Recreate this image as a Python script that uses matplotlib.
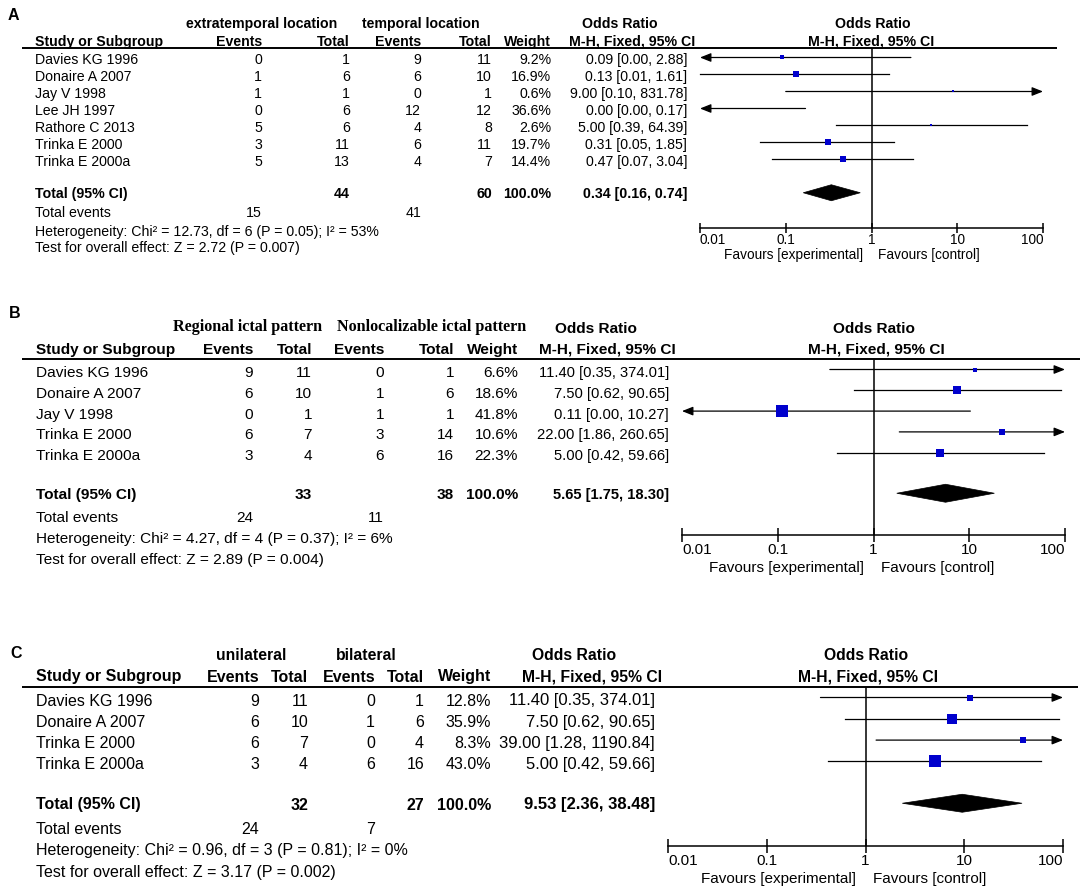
import matplotlib
matplotlib.use("Agg")
import matplotlib.pyplot as plt
from matplotlib.patches import Polygon
import numpy as np

# ---------------- DATA ----------------
tick_values = [0.01, 0.1, 1, 10, 100]
tick_labels = ["0.01", "0.1", "1", "10", "100"]
favours_left = "Favours [experimental]"
favours_right = "Favours [control]"

# Panel A
a_groups = ["extratemporal location", "temporal location"]
a_studies = ["Davies KG 1996", "Donaire A 2007", "Jay V 1998", "Lee JH 1997",
             "Rathore C 2013", "Trinka E 2000", "Trinka E 2000a"]
a_ev1 = [0, 1, 1, 0, 5, 3, 5]
a_tot1 = [1, 6, 1, 6, 6, 11, 13]
a_ev2 = [9, 6, 0, 12, 4, 6, 4]
a_tot2 = [11, 10, 1, 12, 8, 11, 7]
a_weight = [9.2, 16.9, 0.6, 36.6, 2.6, 19.7, 14.4]
a_or = [0.09, 0.13, 9.00, 0.00, 5.00, 0.31, 0.47]
a_lo = [0.00, 0.01, 0.10, 0.00, 0.39, 0.05, 0.07]
a_hi = [2.88, 1.61, 831.78, 0.17, 64.39, 1.85, 3.04]
a_total_n = [44, 60]
a_total_or = [0.34, 0.16, 0.74]
a_total_events = [15, 41]
a_het = "Heterogeneity: Chi² = 12.73, df = 6 (P = 0.05); I² = 53%"
a_test = "Test for overall effect: Z = 2.72 (P = 0.007)"

# Panel B
b_groups = ["Regional ictal pattern", "Nonlocalizable ictal pattern"]
b_studies = ["Davies KG 1996", "Donaire A 2007", "Jay V 1998", "Trinka E 2000", "Trinka E 2000a"]
b_ev1 = [9, 6, 0, 6, 3]
b_tot1 = [11, 10, 1, 7, 4]
b_ev2 = [0, 1, 1, 3, 6]
b_tot2 = [1, 6, 1, 14, 16]
b_weight = [6.6, 18.6, 41.8, 10.6, 22.3]
b_or = [11.40, 7.50, 0.11, 22.00, 5.00]
b_lo = [0.35, 0.62, 0.00, 1.86, 0.42]
b_hi = [374.01, 90.65, 10.27, 260.65, 59.66]
b_total_n = [33, 38]
b_total_or = [5.65, 1.75, 18.30]
b_total_events = [24, 11]
b_het = "Heterogeneity: Chi² = 4.27, df = 4 (P = 0.37); I² = 6%"
b_test = "Test for overall effect: Z = 2.89 (P = 0.004)"

# Panel C
c_groups = ["unilateral", "bilateral"]
c_studies = ["Davies KG 1996", "Donaire A 2007", "Trinka E 2000", "Trinka E 2000a"]
c_ev1 = [9, 6, 6, 3]
c_tot1 = [11, 10, 7, 4]
c_ev2 = [0, 1, 0, 6]
c_tot2 = [1, 6, 4, 16]
c_weight = [12.8, 35.9, 8.3, 43.0]
c_or = [11.40, 7.50, 39.00, 5.00]
c_lo = [0.35, 0.62, 1.28, 0.42]
c_hi = [374.01, 90.65, 1190.84, 59.66]
c_total_n = [32, 27]
c_total_or = [9.53, 2.36, 38.48]
c_total_events = [24, 7]
c_het = "Heterogeneity: Chi² = 0.96, df = 3 (P = 0.81); I² = 0%"
c_test = "Test for overall effect: Z = 3.17 (P = 0.002)"

# ---------------- STYLE / LAYOUT ----------------
W, H, DPI = 1084, 893, 100
BLUE = "#0000CD"
SANS = ["Liberation Sans", "DejaVu Sans"]
SERIF = ["Liberation Serif", "DejaVu Serif"]

fig = plt.figure(figsize=(W / DPI, H / DPI), dpi=DPI)
axm = fig.add_axes([0, 0, 1, 1])
axm.set_xlim(0, W)
axm.set_ylim(H, 0)
axm.axis("off")


def fmt_or(e, l, h):
    return f"{e:.2f} [{l:.2f}, {h:.2f}]"


def draw_panel(letter, groups, studies, ev1, tot1, ev2, tot2, weight, orv, lo, hi,
               total_n, total_or, total_events, het, test, L):
    fs = L["fs"]
    hfs0 = L["colfs"]
    t = lambda x, y, s, **kw: axm.text(x, y, s, va="center", **kw)

    t(L["label"][0], L["label"][1], letter, fontsize=11.5, fontweight="bold", family=SANS)
    # group headers
    t(L["g1"], L["gy"], groups[0], ha="center", fontsize=L["gfs"], fontweight="bold",
      family=L["group_font"])
    t(L["g2"], L["gy"], groups[1], ha="center", fontsize=L["gfs"], fontweight="bold",
      family=L["group_font"])
    t(L["orc"], L["ory"], "Odds Ratio", ha="center", fontsize=L["hfs"], fontweight="bold", family=SANS)
    t(L["plotc"], L["ory"], "Odds Ratio", ha="center", fontsize=L["hfs"], fontweight="bold", family=SANS)
    # column headers
    hy = L["hy"]
    t(L["left"], hy, "Study or Subgroup", ha="left", fontsize=hfs0, fontweight="bold", family=SANS)
    for key, lab in [("ev1", "Events"), ("tot1", "Total"), ("ev2", "Events"),
                     ("tot2", "Total"), ("w", "Weight")]:
        t(L[key], hy, lab, ha="right", fontsize=hfs0, fontweight="bold", family=SANS)
    t(L["mhc"], hy, "M-H, Fixed, 95% CI", ha="center", fontsize=L["hfs"], fontweight="bold", family=SANS)
    t(L["plotmhc"], hy, "M-H, Fixed, 95% CI", ha="center", fontsize=L["hfs"], fontweight="bold", family=SANS)
    axm.plot([L["line"][0], L["line"][1]], [L["top"], L["top"]], color="black", lw=1.4,
             solid_capstyle="butt")

    ys = [L["y0"] + i * L["dy"] for i in range(len(studies))]
    for i, y in enumerate(ys):
        t(L["left"], y, studies[i], ha="left", fontsize=fs, family=SANS)
        t(L["ev1"], y, str(ev1[i]), ha="right", fontsize=fs, family=SANS)
        t(L["tot1"], y, str(tot1[i]), ha="right", fontsize=fs, family=SANS)
        t(L["ev2"], y, str(ev2[i]), ha="right", fontsize=fs, family=SANS)
        t(L["tot2"], y, str(tot2[i]), ha="right", fontsize=fs, family=SANS)
        t(L["w"], y, f"{weight[i]:.1f}%", ha="right", fontsize=fs, family=SANS)
        t(L["orr"], y, fmt_or(orv[i], lo[i], hi[i]), ha="right", fontsize=L["orfs"], family=SANS)

    ty = L["ty"]
    t(L["left"], ty, "Total (95% CI)", ha="left", fontsize=hfs0, fontweight="bold", family=SANS)
    t(L["tot1"], ty, str(total_n[0]), ha="right", fontsize=hfs0, fontweight="bold", family=SANS)
    t(L["tot2"], ty, str(total_n[1]), ha="right", fontsize=hfs0, fontweight="bold", family=SANS)
    t(L["w"], ty, "100.0%", ha="right", fontsize=hfs0, fontweight="bold", family=SANS)
    t(L["orr"], ty, fmt_or(*total_or), ha="right", fontsize=L["orfs"], fontweight="bold", family=SANS)
    t(L["left"], L["tey"], "Total events", ha="left", fontsize=fs, family=SANS)
    t(L["ev1"], L["tey"], str(total_events[0]), ha="right", fontsize=fs, family=SANS)
    t(L["ev2"], L["tey"], str(total_events[1]), ha="right", fontsize=fs, family=SANS)
    t(L["left"], L["hety"], het, ha="left", fontsize=fs, family=SANS)
    t(L["left"], L["testy"], test, ha="left", fontsize=fs, family=SANS)

    # forest plot axes (x log scale, y in figure pixels)
    x0, x1, top, ay = L["px0"], L["px1"], L["top"], L["axisy"]
    ax = fig.add_axes([x0 / W, 1 - ay / H, (x1 - x0) / W, (ay - top) / H])
    ax.set_xscale("log")
    ax.set_xlim(tick_values[0], tick_values[-1])
    ax.set_ylim(ay, top)
    ax.patch.set_alpha(0)
    for s in ["top", "left", "right"]:
        ax.spines[s].set_visible(False)
    ax.spines["bottom"].set_linewidth(1.1)
    ax.set_xticks(tick_values)
    ax.set_xticklabels([""] * len(tick_values))
    ax.xaxis.set_minor_locator(matplotlib.ticker.NullLocator())
    ax.tick_params(axis="x", direction="inout", length=L["ticklen"], width=1.1)
    ax.set_yticks([])
    ax.axvline(1, color="black", lw=1.1)
    n = len(tick_values)
    for k, (v, lab) in enumerate(zip(tick_values, tick_labels)):
        ha = "left" if k == 0 else ("right" if k == n - 1 else "center")
        ax.text(v, L["tly"], lab, ha=ha, va="center", fontsize=L["tfs"], family=SANS,
                clip_on=False)
    axm.text(L["favl"], L["favy"], favours_left, ha="right", va="center", fontsize=L["tfs"], family=SANS)
    axm.text(L["favr"], L["favy"], favours_right, ha="left", va="center", fontsize=L["tfs"], family=SANS)

    lim_lo, lim_hi = tick_values[0], tick_values[-1]
    for i, y in enumerate(ys):
        y = y + L["lineoff"]
        l, h = lo[i], hi[i]
        arrow_l, arrow_h = l < lim_lo, h > lim_hi
        lc, hc = max(l, lim_lo), min(h, lim_hi)
        if arrow_l or arrow_h:
            start, tip = (hc, lc) if arrow_l else (lc, hc)
            ax.annotate("", xy=(tip, y), xytext=(start, y), annotation_clip=False,
                        arrowprops=dict(arrowstyle="-|>,head_length=0.55,head_width=0.22",
                                        mutation_scale=12, lw=0.9, color="black",
                                        shrinkA=0, shrinkB=0))
        else:
            ax.plot([lc, hc], [y, y], color="black", lw=0.9, clip_on=False)
        if lim_lo < orv[i] < lim_hi:
            side = L["sq"] * np.sqrt(weight[i]) * 0.72
            ax.scatter([orv[i]], [y], marker="s", s=side ** 2, color=BLUE, zorder=3,
                       linewidths=0)
    e, l, h = total_or
    dh = L["dh"]
    yd = ty + L["lineoff"] / 2
    ax.add_patch(Polygon([(l, yd), (e, yd - dh), (h, yd), (e, yd + dh)], closed=True,
                         facecolor="black", edgecolor="black", lw=0.5))


LA = dict(fs=10.2, colfs=10.2, gfs=10.2, hfs=10.2, orfs=10.2, group_font=SANS,
          label=(8, 15), gy=24, g1=262, g2=421, ory=24, orc=620, plotc=873,
          hy=42, left=35, ev1=262, tot1=350, ev2=421, tot2=492, w=551, orr=687,
          mhc=632, plotmhc=871, line=(22, 1057), top=48,
          y0=60, dy=17.0, ty=194, tey=213, hety=232, testy=248,
          px0=700, px1=1043, axisy=228, ticklen=7.5, tly=240, tfs=9.8,
          favl=863, favr=878, favy=255, dh=8, sq=1.45, lineoff=-2.5)

LB = dict(fs=11.1, colfs=11.1, gfs=11.6, hfs=11.1, orfs=10.6, group_font=SERIF,
          label=(9, 313), gy=327, g1=248, g2=432, ory=329, orc=596, plotc=874,
          hy=350, left=36, ev1=253, tot1=312, ev2=384, tot2=454, w=518, orr=669,
          mhc=607, plotmhc=876, line=(22, 1080), top=359,
          y0=373, dy=20.8, ty=495, tey=518, hety=539, testy=560,
          px0=682, px1=1065, axisy=535, ticklen=10, tly=550, tfs=11,
          favl=864, favr=881, favy=568, dh=9, sq=1.75, lineoff=-3.5)

LC = dict(fs=11.5, colfs=11.5, gfs=11.3, hfs=11.3, orfs=12.0, group_font=SANS,
          label=(10, 653), gy=656, g1=251, g2=366, ory=656, orc=574, plotc=866,
          hy=677, left=36, ev1=259, tot1=308, ev2=375, tot2=424, w=491, orr=655,
          mhc=592, plotmhc=868, line=(22, 1078), top=687,
          y0=701, dy=21.3, ty=805, tey=829, hety=851, testy=872,
          px0=668, px1=1063, axisy=846, ticklen=10, tly=861, tfs=11,
          favl=856, favr=873, favy=879, dh=9, sq=1.78, lineoff=-3.5)

draw_panel("A", a_groups, a_studies, a_ev1, a_tot1, a_ev2, a_tot2, a_weight, a_or, a_lo, a_hi,
           a_total_n, a_total_or, a_total_events, a_het, a_test, LA)
draw_panel("B", b_groups, b_studies, b_ev1, b_tot1, b_ev2, b_tot2, b_weight, b_or, b_lo, b_hi,
           b_total_n, b_total_or, b_total_events, b_het, b_test, LB)
draw_panel("C", c_groups, c_studies, c_ev1, c_tot1, c_ev2, c_tot2, c_weight, c_or, c_lo, c_hi,
           c_total_n, c_total_or, c_total_events, c_het, c_test, LC)

fig.savefig("out.png", dpi=DPI, facecolor="white")
